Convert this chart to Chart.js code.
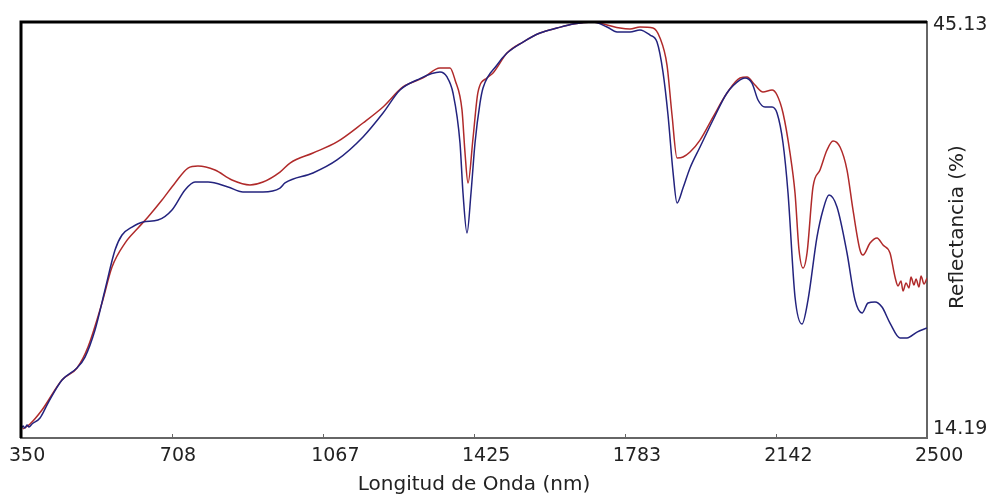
<!DOCTYPE html>
<html>
<head>
<meta charset="utf-8">
<script src="https://cdn.jsdelivr.net/npm/chart.js@4.4.0/dist/chart.umd.min.js"></script>
<style>
  body { margin: 0; background: #fff; }
  canvas { display: block; }
</style>
</head>
<body>
<canvas id="specChart" width="994" height="497"></canvas>
<script>
// axis ticks as printed on the original
const xTicks = [350, 708, 1067, 1425, 1783, 2142, 2500];
const yTicks = [14.19, 45.13];

// blue spectrum (wavelength nm / reflectance %)
const blueWl = [350, 354.7, 359.5, 364.2, 369.0, 376.1, 395.1, 414.1, 447.3, 482.9, 501.9, 525.6, 549.3, 573.1, 589.7, 613.4, 639.5, 675.1, 708.3, 739.2,
  762.9, 793.8, 841.2, 876.8, 924.3, 964.6, 976.5, 1042.9, 1099.9, 1161.6, 1209.1, 1249.4, 1289.8, 1344.3, 1360.9, 1375.2, 1391.8, 1398.9, 1408.4, 1417.9,
  1427.4, 1439.3, 1446.4, 1479.6, 1503.3, 1541.3, 1581.6, 1622.0, 1660.0, 1707.4, 1740.6, 1764.4, 1795.2, 1818.9, 1842.7, 1859.3, 1873.5, 1885.4, 1897.3, 1906.8,
  1921.0, 1937.6, 1961.4, 1992.2, 2025.4, 2056.3, 2068.1, 2084.7, 2099.0, 2115.6, 2132.2, 2144.1, 2158.3, 2170.2, 2186.8, 2203.4, 2217.6, 2239.0, 2253.2, 2267.5,
  2286.4, 2310.2, 2329.2, 2345.8, 2360.0, 2376.6, 2393.2, 2412.2, 2435.9, 2452.5, 2476.3, 2500];
const blueR = [14.79, 15.08, 14.93, 15.16, 15.01, 15.23, 15.68, 16.79, 18.50, 19.40, 20.21, 22.22, 25.20, 28.17, 29.29, 29.88, 30.26, 30.40, 31.15, 32.64,
  33.23, 33.23, 32.86, 32.49, 32.49, 32.78, 33.16, 33.90, 34.87, 36.58, 38.36, 40.07, 40.82, 41.41, 41.04, 39.85, 36.13, 32.41, 29.44, 32.41,
  36.13, 39.11, 40.22, 41.93, 42.82, 43.64, 44.31, 44.68, 44.98, 45.13, 44.76, 44.39, 44.39, 44.54, 44.16, 43.64, 41.41, 38.21, 33.97, 31.67,
  32.78, 34.27, 35.83, 37.84, 39.85, 40.82, 40.97, 40.59, 39.33, 38.81, 38.81, 38.36, 36.13, 32.41, 24.68, 22.67, 24.45, 29.14, 31.15, 32.26,
  31.37, 27.95, 24.45, 23.49, 24.23, 24.31, 23.93, 22.74, 21.63, 21.63, 22.07, 22.37];

// red spectrum
const redWl = [354.7, 371.4, 399.8, 447.3, 482.9, 509.0, 542.2, 566.0, 596.8, 627.7, 651.4, 684.6, 715.5, 746.3, 770.0, 810.4, 850.7, 893.4, 924.3, 964.6,
  988.4, 1042.9, 1099.9, 1161.6, 1209.1, 1256.5, 1304.0, 1344.3, 1368.1, 1380.0, 1396.5, 1403.7, 1410.8, 1422.7, 1434.5, 1455.9, 1470.1, 1503.3, 1541.3, 1581.6,
  1622.0, 1660.0, 1707.4, 1740.6, 1771.5, 1795.2, 1818.9, 1849.8, 1866.4, 1883.0, 1894.9, 1906.8, 1921.0, 1937.6, 1961.4, 1992.2, 2025.4, 2056.3, 2072.9, 2091.8,
  2110.8, 2132.2, 2144.1, 2158.3, 2174.9, 2186.8, 2196.3, 2205.8, 2215.3, 2229.5, 2246.1, 2262.7, 2277.0, 2293.6, 2310.2, 2324.4, 2341.0, 2348.1, 2364.8, 2381.4,
  2395.6, 2412.2, 2424.1, 2431.2, 2438.3, 2443.0, 2450.2, 2457.3, 2462.0, 2469.1, 2473.9, 2481.0, 2485.8, 2492.9, 2500];
const redR = [14.86, 15.23, 16.27, 18.50, 19.40, 20.96, 24.23, 26.91, 28.69, 29.81, 30.63, 31.89, 33.16, 34.27, 34.42, 34.12, 33.38, 33.01, 33.23, 33.97,
  34.64, 35.39, 36.21, 37.62, 38.81, 40.30, 40.97, 41.71, 41.71, 40.82, 38.59, 35.39, 33.16, 36.50, 39.92, 40.97, 41.34, 42.82, 43.64, 44.31,
  44.68, 44.98, 45.13, 44.91, 44.68, 44.61, 44.76, 44.68, 43.94, 41.93, 38.21, 35.02, 35.09, 35.46, 36.35, 38.06, 39.85, 40.97, 41.04, 40.44,
  39.92, 40.07, 39.70, 38.36, 35.39, 32.41, 28.17, 26.83, 27.95, 32.86, 34.12, 35.61, 36.28, 35.83, 34.12, 31.15, 28.17, 27.80, 28.69, 29.07,
  28.54, 27.95, 26.16, 25.50, 25.87, 25.12, 25.72, 25.35, 26.16, 25.57, 26.02, 25.42, 26.24, 25.64, 26.09];

const textColor = '#222';
const fontFam = "'DejaVu Sans', sans-serif";

function toPoints(wl, r) {
  return wl.map((w, i) => ({ x: w, y: r[i] }));
}

// black frame on top/left, little inward ticks, right-hand labels
const framePlugin = {
  id: 'frame',
  afterDatasetsDraw(chart) {
    const { ctx, chartArea: a, scales } = chart;
    ctx.save();
    ctx.strokeStyle = '#666';
    ctx.lineWidth = 1;
    xTicks.forEach(v => {
      const px = Math.round(scales.x.getPixelForValue(v)) + 0.5;
      ctx.beginPath();
      ctx.moveTo(px, a.bottom);
      ctx.lineTo(px, a.bottom - 4);
      ctx.stroke();
    });
    ctx.strokeStyle = '#000';
    ctx.lineWidth = 3;
    ctx.beginPath();
    ctx.moveTo(a.left, a.bottom);
    ctx.lineTo(a.left, a.top);
    ctx.lineTo(a.right, a.top);
    ctx.stroke();
    ctx.restore();
  },
  afterDraw(chart) {
    const { ctx, chartArea: a, scales } = chart;
    ctx.save();
    ctx.fillStyle = textColor;
    ctx.font = '19px ' + fontFam;
    ctx.textAlign = 'left';
    ctx.textBaseline = 'middle';
    yTicks.forEach(v => {
      const py = scales.y.getPixelForValue(v);
      const shift = v === yTicks[0] ? -9 : 3;
      ctx.fillText(v.toFixed(2), a.right + 6, py + shift);
    });
    ctx.font = '20px ' + fontFam;
    ctx.translate(a.right + 31, (a.top + a.bottom) / 2 - 3);
    ctx.rotate(-Math.PI / 2);
    ctx.textAlign = 'center';
    ctx.fillText('Reflectancia (%)', 0, 0);
    ctx.restore();
  }
};

const ctx = document.getElementById('specChart').getContext('2d');
const specChart = new Chart(ctx, {
  type: 'line',
  data: {
    datasets: [{
      label: 'Muestra 1',
      data: toPoints(blueWl, blueR),
      borderColor: '#23237e',
      borderWidth: 1.5,
      pointRadius: 0,
      cubicInterpolationMode: 'monotone',
      fill: false
    }, {
      label: 'Muestra 2',
      data: toPoints(redWl, redR),
      borderColor: '#b02a2a',
      borderWidth: 1.5,
      pointRadius: 0,
      cubicInterpolationMode: 'monotone',
      fill: false
    }]
  },
  options: {
    responsive: false,
    animation: false,
    layout: { padding: { left: 21, top: 22, right: 0, bottom: 0 } },
    plugins: {
      legend: { display: false },
      tooltip: { enabled: false }
    },
    scales: {
      x: {
        type: 'linear',
        min: 350,
        max: 2500,
        afterBuildTicks: scale => { scale.ticks = xTicks.map(v => ({ value: v })); },
        afterFit: scale => { scale.height = 59; },
        grid: { display: true, drawOnChartArea: false, drawTicks: false },
        border: { color: '#666', width: 2 },
        ticks: {
          autoSkip: false,
          maxRotation: 0,
          align: 'start',
          labelOffset: -12,
          padding: 7,
          color: textColor,
          font: { family: fontFam, size: 19 },
          callback: v => String(v)
        },
        title: {
          display: true,
          text: 'Longitud de Onda (nm)',
          color: textColor,
          font: { family: fontFam, size: 20 },
          padding: 0
        }
      },
      y: {
        type: 'linear',
        position: 'right',
        min: yTicks[0],
        max: yTicks[1],
        afterFit: scale => { scale.width = 67; },
        grid: { display: true, drawOnChartArea: false, drawTicks: false },
        border: { color: '#666', width: 2 },
        ticks: { display: false }
      }
    }
  },
  plugins: [framePlugin]
});
</script>
</body>
</html>
